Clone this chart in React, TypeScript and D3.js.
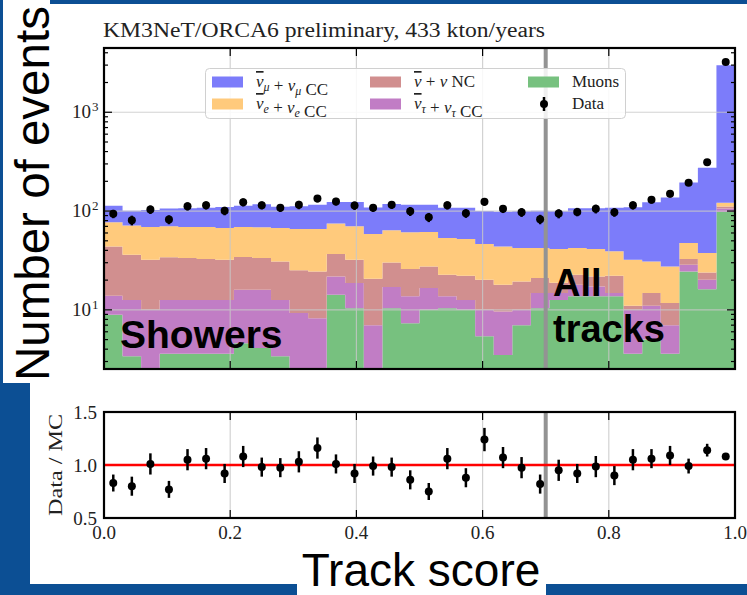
import * as d3 from 'd3'
import React from 'react'

const nBins = 34
// stacked MC per track-score bin (events), bottom to top
const muons = [8.9, 3.4, 1.5, 3.6, 3.6, 3.6, 3.6, 4.6, 4.1, 3.4, 1.5, 1.5, 14.2, 10.4, 1.5, 10.4, 7.3, 10.0, 10.4, 10.0, 5.4, 3.5, 7.0, 10.4, 12.6, 13.7, 13.7, 13.7, 3.6, 5.0, 3.6, 24.5, 16.2, 97.7]
const tauCC = [5.0, 9.2, 8.5, 9.0, 9.0, 9.0, 9.0, 11.4, 11.9, 9.2, 7.8, 6.7, 7.6, 8.3, 5.5, 6.6, 6.4, 6.6, 3.3, 2.6, 4.6, 6.1, 3.0, 4.4, 2.2, 4.2, 3.5, 1.1, 6.4, 6.0, 3.4, 4.1, 4.0, 8.3]
const ncAll = [30.0, 23.6, 22.2, 21.4, 20.9, 20.1, 19.6, 18.3, 17.5, 18.3, 15.8, 16.3, 15.0, 13.5, 13.6, 13.2, 12.2, 10.9, 9.0, 9.5, 10.2, 8.3, 9.4, 6.2, 4.0, 4.8, 4.6, 7.3, 1.0, 3.8, 4.7, 4.1, 3.7, 5.1]
const eCC = [33.1, 35.1, 36.9, 36.1, 35.6, 36.4, 35.3, 34.8, 35.0, 36.6, 40.9, 41.5, 37.9, 37.9, 38.1, 33.6, 35.0, 34.0, 30.8, 30.1, 26.3, 26.0, 22.9, 21.3, 22.5, 19.6, 19.5, 17.0, 21.2, 16.1, 15.8, 14.9, 13.7, 10.0]
const muCC = [35.9, 29.2, 33.5, 35.9, 37.8, 38.6, 42.3, 44.1, 48.5, 43.1, 46.1, 49.7, 48.9, 53.5, 50.2, 54.4, 55.1, 54.1, 54.8, 55.8, 53.8, 54.3, 57.4, 58.7, 58.4, 64.3, 65.7, 68.9, 77.2, 92.1, 109.3, 146.8, 236.1, 2866]
const dataCounts = [93.7, 80.7, 103.6, 82, 111.9, 114.5, 100.5, 122.8, 114.5, 107.8, 115.6, 133.9, 124.8, 113.7, 107.8, 115.6, 99.5, 86.5, 114.5, 95, 124, 105.3, 97.2, 82.6, 94.3, 98.1, 105.3, 97.2, 114.5, 130, 149.7, 193, 312.6, 3220]
const ratio = [0.83, 0.80, 1.01, 0.77, 1.05, 1.06, 0.92, 1.08, 0.98, 0.975, 1.03, 1.16, 1.01, 0.92, 0.99, 0.98, 0.86, 0.75, 1.06, 0.88, 1.24, 1.07, 0.975, 0.82, 0.95, 0.92, 0.985, 0.90, 1.05, 1.06, 1.09, 0.99, 1.14, 1.08]
const ratioErr = [0.08, 0.09, 0.10, 0.08, 0.10, 0.10, 0.09, 0.10, 0.09, 0.09, 0.10, 0.10, 0.09, 0.09, 0.09, 0.09, 0.09, 0.08, 0.10, 0.09, 0.11, 0.10, 0.10, 0.09, 0.10, 0.09, 0.10, 0.09, 0.10, 0.09, 0.09, 0.07, 0.06, 0.02]

const xTicks = [0, 0.2, 0.4, 0.6, 0.8, 1.0]
const xTickLabels = ['0.0', '0.2', '0.4', '0.6', '0.8', '1.0']
const decades = [1, 2, 3]
const ratioTicks = [0.5, 1.0, 1.5]
const ratioTickLabels = ['0.5', '1.0', '1.5']
const cutValue = 0.7

const layerKeys = ['muons', 'tauCC', 'nc', 'eCC', 'muCC']
const layerColors = ['#77c17f', '#c17dc5', '#d18f8f', '#ffca7c', '#7c7cfa']

const serif = '"Liberation Serif", "Times New Roman", serif'
const sans = '"Liberation Sans", Arial, sans-serif'
const slideBlue = '#0c4f94'

const yMin = 2.52
const yMax = 4470

const Nu = ({ bar, sub }: { bar?: boolean, sub?: string }) => (
    <>
        <tspan fontStyle="italic" style={bar ? { textDecoration: 'overline' } : undefined}>ν</tspan>
        {sub && <tspan fontStyle="italic" fontSize={12} dy={4}>{sub}</tspan>}
        {sub && <tspan dy={-4}>{''}</tspan>}
    </>
)

export default function App() {
    const x = d3.scaleLinear().domain([0, 1]).range([104, 735])
    const y = d3.scaleLog().domain([yMin, yMax]).range([369, 48])
    const yr = d3.scaleLinear().domain([0.5, 1.5]).range([518, 412])
    const top = { t: 48, b: 369 }
    const bot = { t: 412, b: 518 }

    const rows = d3.range(nBins).map(i => ({
        muons: muons[i], tauCC: tauCC[i], nc: ncAll[i], eCC: eCC[i], muCC: muCC[i]
    }))
    //@ts-ignore
    const series = d3.stack().keys(layerKeys)(rows)
    const area = d3.area<any>()
        .curve(d3.curveStepAfter)
        .x(d => x(d.e))
        .y0(d => y(Math.max(d.lo, yMin)))
        .y1(d => y(Math.max(d.hi, yMin)))
    const pts = (s: any) => {
        const p = s.map((d: any, i: number) => ({ e: i / nBins, lo: d[0], hi: d[1] }))
        p.push({ ...p[p.length - 1], e: 1 })
        return p
    }
    const cx = (i: number) => x((i + 0.5) / nBins)

    const minor: number[] = []
    for (let d = 0; d <= 3; d++)
        for (let k = 2; k <= 9; k++) {
            const v = k * 10 ** d
            if (v > yMin && v < yMax) minor.push(v)
        }

    const legend = [
        { col: 0, row: 0, color: layerColors[4], label: <><Nu bar sub="μ" /><tspan> + </tspan><Nu sub="μ" /><tspan> CC</tspan></> },
        { col: 0, row: 1, color: layerColors[3], label: <><Nu bar sub="e" /><tspan> + </tspan><Nu sub="e" /><tspan> CC</tspan></> },
        { col: 1, row: 0, color: layerColors[2], label: <><Nu bar /><tspan> + </tspan><Nu /><tspan> NC</tspan></> },
        { col: 1, row: 1, color: layerColors[1], label: <><Nu bar sub="τ" /><tspan> + </tspan><Nu sub="τ" /><tspan> CC</tspan></> },
        { col: 2, row: 0, color: layerColors[0], label: <tspan>Muons</tspan> },
        { col: 2, row: 1, color: null, label: <tspan>Data</tspan> },
    ]
    const legX = [212, 370, 528]
    const legY = [82, 104]

    return (
        <svg width={747} height={595} style={{ position: 'absolute', left: 0, top: 0 }}>
            {/* slide frame */}
            <rect x={0} y={0} width={747} height={595} fill={slideBlue} />
            <rect x={30} y={4} width={717} height={580} fill="#fff" />
            <rect x={3} y={0} width={47} height={383} fill="#fff" />
            <rect x={297} y={540} width={249} height={55} fill="#fff" />

            <text x={103} y={37} fontFamily={serif} fontSize={20} textLength={442} lengthAdjust="spacingAndGlyphs" fill="#222">
                KM3NeT/ORCA6 preliminary, 433 kton/years
            </text>

            {/* stacked MC */}
            <g>
                {series.map((s: any, k: number) => (
                    <path key={k} d={area(pts(s)) || ''} fill={layerColors[k]} />
                ))}
            </g>

            {/* grid */}
            <g stroke="#c8c8c8" strokeWidth={1.2} opacity={0.8}>
                {xTicks.slice(1, -1).map(t => (
                    <line key={t} x1={x(t)} x2={x(t)} y1={top.t} y2={top.b} />
                ))}
                {decades.map(d => (
                    <line key={d} x1={x(0)} x2={x(1)} y1={y(10 ** d)} y2={y(10 ** d)} />
                ))}
                {xTicks.slice(1, -1).map(t => (
                    <line key={'r' + t} x1={x(t)} x2={x(t)} y1={bot.t} y2={bot.b} />
                ))}
            </g>

            {/* cut line */}
            <line x1={x(cutValue)} x2={x(cutValue)} y1={top.t} y2={top.b} stroke="#939393" strokeWidth={4} />
            <line x1={x(cutValue)} x2={x(cutValue)} y1={bot.t} y2={bot.b} stroke="#939393" strokeWidth={4} />

            {/* data */}
            <g fill="#000" stroke="#000">
                {dataCounts.map((v, i) => {
                    const e = v * ratioErr[i] / ratio[i]
                    return (
                        <g key={i}>
                            <line x1={cx(i)} x2={cx(i)} y1={y(v - e)} y2={y(v + e)} strokeWidth={2.5} />
                            <circle cx={cx(i)} cy={y(v)} r={4} stroke="none" />
                        </g>
                    )
                })}
            </g>

            {/* legend */}
            <rect x={205.5} y={68.5} width={420} height={50} rx={4} fill="#fff" fillOpacity={0.85} stroke="#d0d0d0" />
            {legend.map((l, i) => (
                <g key={i}>
                    {l.color ? (
                        <rect x={legX[l.col]} y={legY[l.row] - 5.5} width={31} height={11} fill={l.color} />
                    ) : (
                        <g stroke="#000" fill="#000">
                            <line x1={legX[l.col] + 16} x2={legX[l.col] + 16} y1={legY[l.row] - 7} y2={legY[l.row] + 7} strokeWidth={2.5} />
                            <circle cx={legX[l.col] + 16} cy={legY[l.row]} r={4} stroke="none" />
                        </g>
                    )}
                    <text x={legX[l.col] + 44} y={legY[l.row] + 5} fontFamily={serif} fontSize={17} fill="#222">
                        {l.label}
                    </text>
                </g>
            ))}

            {/* frame ticks */}
            <g stroke="#000" strokeWidth={1.2}>
                {xTicks.map(t => (
                    <g key={t}>
                        <line x1={x(t)} x2={x(t)} y1={top.t} y2={top.t + 8} />
                        <line x1={x(t)} x2={x(t)} y1={top.b} y2={top.b - 8} />
                        <line x1={x(t)} x2={x(t)} y1={bot.t} y2={bot.t + 8} />
                        <line x1={x(t)} x2={x(t)} y1={bot.b} y2={bot.b - 8} />
                    </g>
                ))}
                {decades.map(d => (
                    <g key={d}>
                        <line x1={x(0)} x2={x(0) + 8} y1={y(10 ** d)} y2={y(10 ** d)} />
                        <line x1={x(1)} x2={x(1) - 8} y1={y(10 ** d)} y2={y(10 ** d)} />
                    </g>
                ))}
                {minor.map(v => (
                    <g key={v}>
                        <line x1={x(0)} x2={x(0) + 4} y1={y(v)} y2={y(v)} />
                        <line x1={x(1)} x2={x(1) - 4} y1={y(v)} y2={y(v)} />
                    </g>
                ))}
                {ratioTicks.map(t => (
                    <g key={t}>
                        <line x1={x(0)} x2={x(0) + 8} y1={yr(t)} y2={yr(t)} />
                        <line x1={x(1)} x2={x(1) - 8} y1={yr(t)} y2={yr(t)} />
                    </g>
                ))}
            </g>
            <rect x={x(0)} y={top.t} width={x(1) - x(0)} height={top.b - top.t} fill="none" stroke="#000" strokeWidth={2.2} />

            {/* y tick labels, top */}
            {decades.map(d => (
                <text key={d} x={91} y={y(10 ** d) + 6} textAnchor="end" fontFamily={serif} fontSize={19} fill="#222">
                    10<tspan x={92} dy={-7} textAnchor="start" fontSize={13}>{d}</tspan>
                </text>
            ))}

            {/* annotations */}
            <text x={120} y={348} fontFamily={sans} fontWeight="bold" fontSize={39} fill="#000">Showers</text>
            <text x={553} y={296} fontFamily={sans} fontWeight="bold" fontSize={38} fill="#000">All</text>
            <text x={553} y={342} fontFamily={sans} fontWeight="bold" fontSize={38} fill="#000">tracks</text>

            {/* ratio panel */}
            <line x1={x(0)} x2={x(1)} y1={yr(1)} y2={yr(1)} stroke="#ff0000" strokeWidth={2.5} />
            <g fill="#000" stroke="#000">
                {ratio.map((v, i) => (
                    <g key={i}>
                        <line x1={cx(i)} x2={cx(i)} y1={yr(v - ratioErr[i])} y2={yr(v + ratioErr[i])} strokeWidth={2.5} />
                        <circle cx={cx(i)} cy={yr(v)} r={4} stroke="none" />
                    </g>
                ))}
            </g>
            <rect x={x(0)} y={bot.t} width={x(1) - x(0)} height={bot.b - bot.t} fill="none" stroke="#000" strokeWidth={2.2} />
            {ratioTicks.map((t, i) => (
                <text key={t} x={97} y={yr(t) + 7} textAnchor="end" fontFamily={serif} fontSize={19} fill="#222">{ratioTickLabels[i]}</text>
            ))}
            {xTicks.map((t, i) => (
                <text key={t} x={x(t)} y={539} textAnchor="middle" fontFamily={serif} fontSize={19} fill="#222">{xTickLabels[i]}</text>
            ))}
            <text transform={`translate(62,${yr(1)}) rotate(-90)`} textAnchor="middle" fontFamily={serif} fontSize={19} textLength={102} lengthAdjust="spacingAndGlyphs" fill="#222">
                Data / MC
            </text>

            {/* slide axis titles */}
            <text transform="translate(49,381) rotate(-90)" fontFamily={sans} fontSize={47.5} fill="#000">Number of events</text>
            <text x={421} y={586} textAnchor="middle" fontFamily={sans} fontSize={46} fill="#000">Track score</text>
        </svg>
    )
}
